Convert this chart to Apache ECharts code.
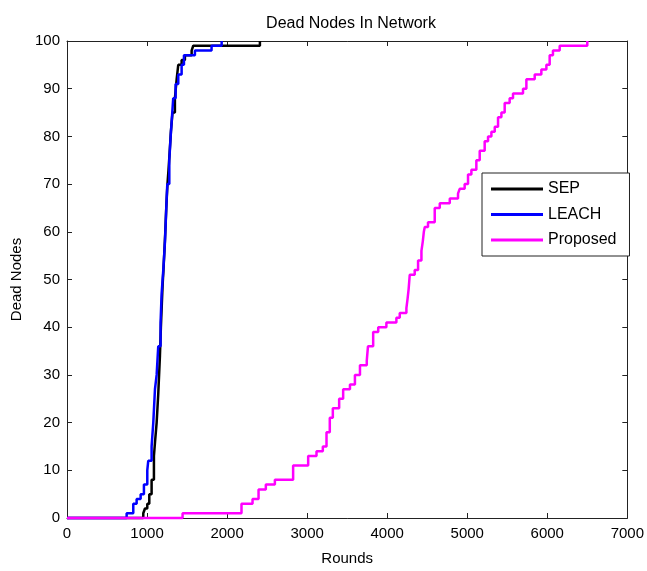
<!DOCTYPE html>
<html>
<head>
<meta charset="utf-8">
<script src="https://cdn.jsdelivr.net/npm/echarts@6/dist/echarts.min.js"></script>
<style>
html,body{margin:0;padding:0;background:#fff;}
#chart{width:647px;height:571px;}
</style>
</head>
<body>
<div id="chart"></div>
<script>
var xTicks = [0, 1000, 2000, 3000, 4000, 5000, 6000, 7000];
var yTicks = [0, 10, 20, 30, 40, 50, 60, 70, 80, 90, 100];
var seriesNames = ['SEP', 'LEACH', 'Proposed'];

var sepRounds = [0, 953, 974, 1003, 1028, 1057, 1086, 1100, 1120, 1140, 1161, 1173, 1185, 1195, 1205, 1217, 1228, 1240, 1255, 1268, 1280, 1298, 1318, 1348, 1370, 1390, 1432, 1473, 1557, 1577, 2410];
var sepDead   = [0, 1, 2, 3, 5, 8, 13, 16, 20, 26, 34, 40, 45, 49, 52, 56, 60, 65, 70, 73, 76, 81, 85, 88, 92, 95, 96, 97, 98, 99, 100];

var leachRounds = [0, 745, 828, 870, 920, 961, 1003, 1015, 1057, 1078, 1099, 1120, 1140, 1169, 1182, 1203, 1224, 1231, 1238, 1245, 1253, 1278, 1295, 1315, 1327, 1357, 1390, 1432, 1461, 1598, 1806, 1932];
var leachDead   = [0, 1, 3, 4, 5, 7, 10, 12, 15, 20, 27, 30, 36, 41, 47, 52, 58, 61, 64, 67, 70, 75, 80, 85, 88, 91, 93, 95, 97, 98, 99, 100];

var propRounds = [0, 1444, 2180, 2318, 2393, 2484, 2597, 2825, 3013, 3117, 3196, 3242, 3283, 3321, 3400, 3450, 3535, 3597, 3660, 3745, 3760, 3825, 3888, 3990, 4115, 4157, 4240, 4255, 4268, 4282, 4344, 4386, 4428, 4445, 4458, 4470, 4510, 4594, 4657, 4782, 4885, 4906, 4968, 5010, 5052, 5114, 5156, 5218, 5260, 5302, 5344, 5385, 5427, 5468, 5530, 5572, 5697, 5739, 5790, 5843, 5926, 5989, 6030, 6071, 6155, 6500];
var propDead   = [0, 1, 3, 4, 6, 7, 8, 11, 13, 14, 15, 18, 21, 23, 25, 27, 28, 30, 32, 33, 36, 39, 40, 41, 42, 43, 44, 46, 48, 51, 52, 54, 56, 58, 60, 61, 62, 65, 66, 67, 68, 69, 70, 72, 73, 75, 77, 79, 80, 81, 82, 84, 85, 87, 88, 89, 90, 92, 92, 93, 94, 95, 97, 98, 99, 100];

function zip(a, b) { return a.map(function (v, i) { return [v, b[i]]; }); }

var FONT = '"Liberation Sans", Arial, sans-serif';
var chart = echarts.init(document.getElementById('chart'), null, {renderer: 'canvas'});

function xAxisDef(pos, labels) {
  return {
    type: 'value', position: pos,
    min: xTicks[0], max: xTicks[xTicks.length - 1], interval: xTicks[1] - xTicks[0],
    axisLine: {show: true, onZero: false, lineStyle: {color: '#222', width: 1}},
    axisTick: {show: true, inside: true, length: 5, lineStyle: {color: '#222'}},
    axisLabel: {show: labels, color: '#000', fontSize: 15, fontFamily: FONT, margin: 8,
      formatter: function (v) { return String(v); }},
    splitLine: {show: false},
    name: labels ? 'Rounds' : '', nameLocation: 'middle', nameGap: 33,
    nameTextStyle: {color: '#000', fontSize: 15, fontFamily: FONT}
  };
}
function yAxisDef(pos, labels) {
  return {
    type: 'value', position: pos,
    min: yTicks[0], max: yTicks[yTicks.length - 1], interval: yTicks[1] - yTicks[0],
    axisLine: {show: true, onZero: false, lineStyle: {color: '#222', width: 1}},
    axisTick: {show: true, inside: true, length: 5, lineStyle: {color: '#222'}},
    axisLabel: {show: labels, color: '#000', fontSize: 15, fontFamily: FONT, margin: 7,
      formatter: function (v) { return String(v); }},
    splitLine: {show: false},
    name: labels ? 'Dead Nodes' : '', nameLocation: 'middle', nameGap: 42,
    nameTextStyle: {color: '#000', fontSize: 15, fontFamily: FONT}
  };
}

var colors = ['#000000', '#0000ff', '#ff00ff'];
var datasets = [zip(sepRounds, sepDead), zip(leachRounds, leachDead), zip(propRounds, propDead)];

chart.setOption({
  animation: false,
  backgroundColor: '#fff',
  title: {
    text: 'Dead Nodes In Network', left: 346, top: 11, textAlign: 'center',
    textStyle: {color: '#000', fontSize: 16, fontWeight: 'normal', fontFamily: FONT}
  },
  grid: {left: 67, right: 18, top: 41, bottom: 49, containLabel: false},
  xAxis: [xAxisDef('bottom', true), xAxisDef('top', false)],
  yAxis: [yAxisDef('left', true), yAxisDef('right', false)],
  legend: {
    orient: 'vertical', left: 482, top: 173,
    backgroundColor: '#fff', borderColor: '#222', borderWidth: 1,
    padding: [8, 13, 8, 9], itemGap: 9.5,
    itemWidth: 52, itemHeight: 3, icon: 'rect',
    selectedMode: false,
    textStyle: {color: '#000', fontSize: 16, fontFamily: FONT, lineHeight: 16},
    data: seriesNames
  },
  series: seriesNames.map(function (n, i) {
    return {
      name: n, type: 'line', step: 'end', showSymbol: false, symbol: 'none',
      clip: false, data: datasets[i], color: colors[i],
      lineStyle: {color: colors[i], width: 2.5},
      z: 2 + i
    };
  })
});
</script>
</body>
</html>
